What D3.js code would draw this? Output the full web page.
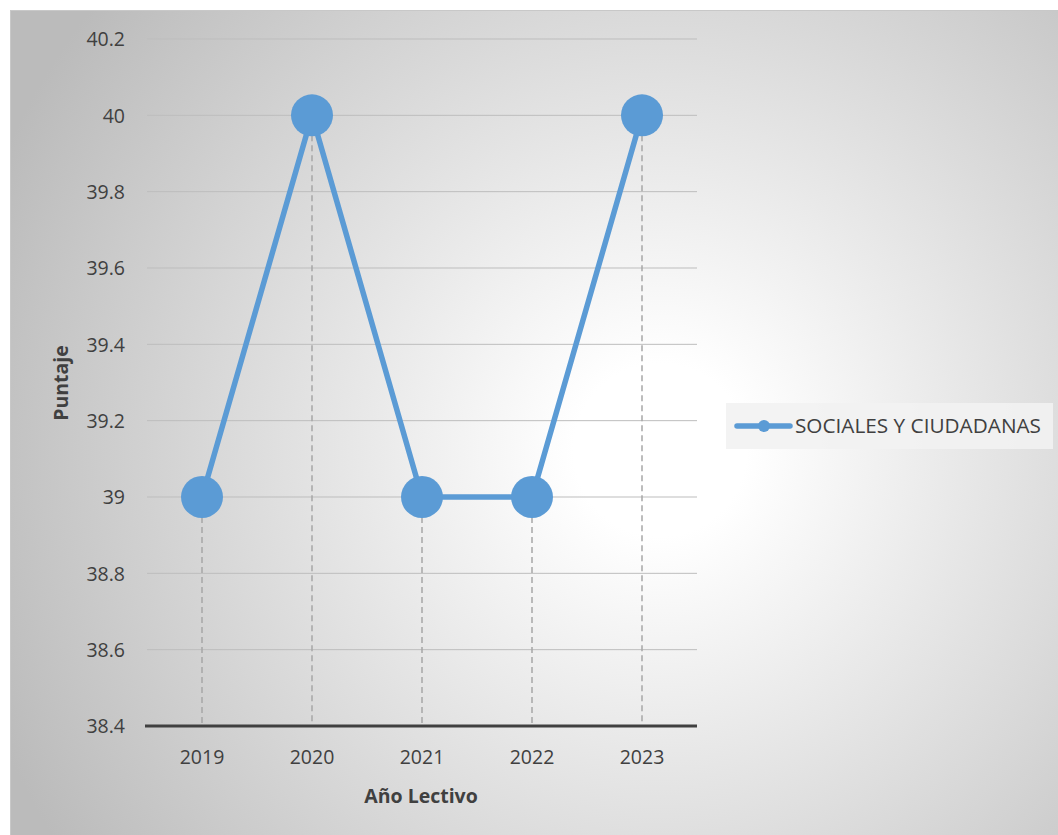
<!DOCTYPE html>
<html><head><meta charset="utf-8">
<script src="https://cdn.jsdelivr.net/npm/d3@7"></script>
<style>body{margin:0;background:#fff}svg{display:block}text{font-family:"Open Sans","Liberation Sans",sans-serif}</style>
</head><body><svg id="c" width="1058" height="835"></svg>
<script>
const categories = ["2019","2020","2021","2022","2023"];
const values = [39, 40, 39, 39, 40];
const yTicks = [38.4,38.6,38.8,39,39.2,39.4,39.6,39.8,40,40.2];
const seriesName = "SOCIALES Y CIUDADANAS";

const svg = d3.select("#c");
const defs = svg.append("defs");
const g = defs.append("radialGradient").attr("id","bg").attr("gradientUnits","userSpaceOnUse")
  .attr("cx",660).attr("cy",450).attr("r",720);
g.append("stop").attr("offset","0.12").attr("stop-color","#ffffff");
g.append("stop").attr("offset","1").attr("stop-color","#bbbbbb");
svg.append("rect").attr("x",10).attr("y",10).attr("width",1048).attr("height",825).attr("fill","url(#bg)");
svg.append("line").attr("x1",10).attr("x2",1058).attr("y1",10.5).attr("y2",10.5).attr("stroke","#c8c8c8");
svg.append("line").attr("x1",10.5).attr("x2",10.5).attr("y1",10).attr("y2",835).attr("stroke","#c8c8c8");

const x = d3.scaleBand().domain(categories).range([147,697]);
const y = d3.scaleLinear().domain([38.4,40.2]).range([726,39]);

// gridlines
svg.append("g").selectAll("line").data(yTicks.slice(1)).join("line")
  .attr("x1",147).attr("x2",697).attr("y1",d=>y(d)).attr("y2",d=>y(d))
  .attr("stroke","#bdbdbd").attr("stroke-width",1);

// y axis labels
const ya = svg.append("g").attr("transform","translate(125,0)")
  .call(d3.axisLeft(y).tickValues(yTicks).tickSize(0).tickFormat(d=>String(+d.toFixed(1))));
ya.select(".domain").remove();
ya.selectAll("text").attr("x",0).attr("dy","0.35em")
  .style("font-family","'Open Sans',sans-serif").style("font-size","19.5px").style("fill","#404040");

// drop lines
svg.append("g").selectAll("line").data(categories).join("line")
  .attr("x1",d=>x(d)+x.bandwidth()/2).attr("x2",d=>x(d)+x.bandwidth()/2)
  .attr("y1",(d,i)=>y(values[i])).attr("y2",y(38.4))
  .attr("stroke","#a6a6a6").attr("stroke-width",1.5).attr("stroke-dasharray","6,4");

// x axis
const xa = svg.append("g").attr("transform",`translate(0,${y(38.4)})`)
  .call(d3.axisBottom(x).tickSize(0).tickPadding(0));
xa.select(".domain").attr("stroke","#404040").attr("stroke-width",3).attr("d","M145,0H697");
xa.selectAll("text").attr("y",31).attr("dy","0.35em")
  .style("font-family","'Open Sans',sans-serif").style("font-size","19.5px").style("fill","#404040");

// line
const line = d3.line().x((d,i)=>x(categories[i])+x.bandwidth()/2).y(d=>y(d));
svg.append("path").datum(values).attr("d",line).attr("fill","none")
  .attr("stroke","#5b9bd5").attr("stroke-width",5.5).attr("stroke-linejoin","round");
svg.append("g").selectAll("circle").data(values).join("circle")
  .attr("cx",(d,i)=>x(categories[i])+x.bandwidth()/2).attr("cy",d=>y(d)).attr("r",21)
  .attr("fill","#5b9bd5");

// axis titles
svg.append("text").attr("x",421).attr("y",796).attr("dy","0.35em").attr("text-anchor","middle")
  .attr("font-size",19.5).attr("font-weight","bold").attr("fill","#404040").text("Año Lectivo");
svg.append("text").attr("transform","translate(61,383) rotate(-90)").attr("dy","0.35em").attr("text-anchor","middle")
  .attr("font-size",19.5).attr("font-weight","bold").attr("fill","#404040").text("Puntaje");

// legend
svg.append("rect").attr("x",726).attr("y",403).attr("width",327).attr("height",46)
  .attr("fill","#f2f2f2").attr("opacity",0.9);
svg.append("line").attr("x1",737).attr("x2",790).attr("y1",426).attr("y2",426)
  .attr("stroke","#5b9bd5").attr("stroke-width",5.5).attr("stroke-linecap","round");
svg.append("circle").attr("cx",764).attr("cy",426).attr("r",6).attr("fill","#5b9bd5");
svg.append("text").attr("x",795).attr("y",426).attr("dy","0.35em").attr("font-size",19.5)
  .attr("textLength",246).attr("lengthAdjust","spacingAndGlyphs")
  .attr("fill","#404040").text(seriesName);
</script></body></html>
